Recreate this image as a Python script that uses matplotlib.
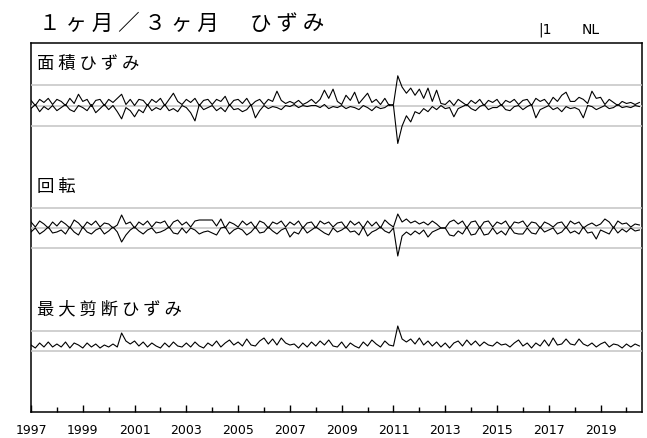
import numpy as np
import matplotlib
matplotlib.use("Agg")
from matplotlib import pyplot as plt

# Data (bimonthly samples, Jan 1997 .. Jul 2020)
t_start, per_year = 1997, 6

area_a = [0.25, 0.0, 0.3, 0.15, 0.35, 0.05,
          0.3, 0.2, 0.0, 0.35, 0.1, 0.55,
          0.2, 0.3, -0.05, 0.25, 0.3, 0.0,
          0.3, 0.15, 0.35, 0.55, 0.05, 0.3,
          0.0, 0.3, 0.25, 0.0, 0.3, 0.15,
          0.35, 0.0, 0.3, 0.6, 0.2, 0.05,
          0.3, 0.15, 0.35, 0.0, 0.25, 0.3,
          0.05, 0.3, 0.2, 0.45, 0.0, 0.25,
          0.3, 0.1, 0.35, 0.0, 0.2, 0.3,
          0.05, 0.3, 0.2, 0.7, 0.25, 0.1,
          0.2, 0.1, 0.25, 0.05, 0.15, 0.3,
          0.1, 0.3, 0.75, 0.35, 0.8, 0.2,
          0.05, 0.5, 0.25, 0.65, 0.1, 0.35,
          0.6, 0.15, 0.3, 0.05, 0.35, 0.0,
          0.05, 1.45, 0.9, 0.6, 0.85, 0.5,
          0.8, 0.35, 0.85, 0.2, 0.75, 0.1,
          0.05, 0.25, 0.0, 0.3, 0.15, 0.0,
          0.25, 0.1, 0.3, 0.0, 0.25, 0.15,
          0.3, 0.0, 0.25, 0.15, 0.3, 0.05,
          0.25, 0.3, 0.0, 0.35, 0.2, 0.3,
          0.05, 0.4, 0.2, 0.5, 0.65, 0.2,
          0.2, 0.4, 0.3, 0.1, 0.7, 0.35,
          0.4, 0.05, 0.3, 0.15, 0.0, 0.2,
          0.1, 0.15, 0.05, 0.15]
area_b = [-0.15, 0.05, -0.3, -0.05, -0.2, 0.0,
          -0.25, -0.1, 0.05, -0.2, -0.3, 0.0,
          -0.1, -0.25, 0.05, -0.35, -0.15, 0.05,
          -0.2, 0.0, -0.3, -0.65, -0.1, -0.25,
          -0.55, -0.2, -0.35, 0.05, -0.25, -0.1,
          -0.2, 0.05, -0.25, -0.15, -0.3, 0.0,
          -0.1, -0.35, -0.75, 0.05, -0.2, -0.1,
          0.0, -0.25, -0.1, -0.3, 0.05, -0.2,
          -0.15, -0.3, -0.2, 0.05, -0.6, -0.25,
          0.0, -0.15, -0.05, -0.1, -0.2, 0.0,
          -0.05, 0.05, -0.1, 0.0, -0.05, 0.0,
          0.0, -0.1, 0.05, -0.15, -0.05, -0.1,
          0.0, -0.15, -0.05, -0.1, -0.2, 0.0,
          -0.1, -0.25, -0.05, -0.15, -0.1, 0.05,
          0.0, -1.85, -1.0, -0.5, -0.8, -0.3,
          -0.4, -0.15, -0.3, -0.05, -0.2, 0.0,
          -0.15, -0.1, -0.55, -0.15, -0.05, 0.05,
          -0.15, -0.25, -0.05, 0.05, -0.2, -0.1,
          -0.1, 0.05, -0.2, -0.25, -0.05, 0.0,
          -0.2, -0.05, 0.05, -0.6, -0.2, -0.1,
          0.0, -0.2, -0.1, -0.3, -0.05, -0.15,
          -0.1, -0.2, -0.6, 0.0, -0.05, -0.2,
          -0.1, 0.0, -0.15, -0.1, 0.05, -0.1,
          -0.05, -0.1, 0.0, -0.05]

rot_a = [0.3, 0.05, 0.35, 0.2, 0.0, 0.3,
         0.1, 0.35, 0.2, 0.0, 0.4, 0.25,
         0.0, 0.3, 0.15, 0.35, 0.05, 0.25,
         0.2, 0.0, 0.15, 0.65, 0.2, 0.3,
         0.0, 0.3, 0.15, 0.35, 0.05, 0.3,
         0.25, 0.35, 0.0, 0.3, 0.4, 0.15,
         0.3, 0.05, 0.35, 0.4, 0.4, 0.4,
         0.4, 0.1, 0.45, 0.0, 0.3, 0.2,
         0.05, 0.35, 0.15, 0.3, 0.0, 0.35,
         0.25, 0.0, 0.3, 0.2, 0.35, 0.05,
         0.3, 0.15, 0.35, 0.0, 0.25, 0.3,
         0.0, 0.35, 0.2, 0.3, 0.05, 0.25,
         0.3, 0.0, 0.35, 0.15, 0.3, 0.0,
         0.35, 0.1, 0.3, 0.0, 0.4, 0.2,
         0.05, 0.7, 0.3, 0.45, 0.25, 0.35,
         0.2, 0.3, 0.15, 0.35, 0.2, 0.0,
         0.0, 0.3, 0.4, 0.2, 0.35, 0.0,
         0.3, 0.35, 0.0, 0.3, 0.35, 0.05,
         0.3, 0.2, 0.35, 0.0, 0.3, 0.25,
         0.35, 0.05, 0.3, 0.25, 0.0, 0.3,
         0.2, 0.05, 0.25, 0.3, 0.0, 0.35,
         0.2, 0.3, 0.0, 0.15, 0.25, 0.1,
         0.2, 0.45, 0.3, 0.0, 0.35, 0.2,
         0.25, 0.05, 0.2, 0.15]
rot_b = [-0.2, 0.0, -0.3, -0.15, 0.05, -0.25,
         -0.2, -0.1, -0.3, 0.05, -0.2, -0.35,
         0.05, -0.2, -0.3, -0.1, 0.0, -0.3,
         -0.15, 0.05, -0.2, -0.7, -0.35, -0.1,
         0.05, -0.15, -0.3, -0.1, 0.0, -0.25,
         -0.2, -0.1, 0.05, -0.25, -0.3, 0.0,
         -0.25, 0.0, -0.1, -0.3, -0.2, -0.15,
         -0.25, -0.35, 0.0, 0.05, -0.3, -0.1,
         0.0, -0.1, -0.35, -0.2, 0.05, -0.25,
         -0.2, 0.05, -0.15, -0.3, -0.1, 0.0,
         -0.45, -0.2, -0.3, 0.05, -0.25, -0.1,
         0.05, -0.1, -0.25, -0.35, 0.0, -0.2,
         -0.1, 0.05, -0.2, -0.15, -0.35, 0.05,
         -0.4, -0.2, -0.1, 0.05, -0.15, -0.25,
         0.0, -1.4, -0.4, -0.2, -0.35, -0.15,
         -0.3, -0.1, -0.45, -0.2, -0.1, 0.0,
         0.0, -0.35, -0.4, -0.15, -0.3, 0.05,
         -0.35, -0.3, 0.05, -0.35, -0.3, 0.0,
         -0.3, -0.15, -0.35, 0.05, -0.25, -0.3,
         -0.3, 0.0, -0.25, -0.3, 0.05, -0.2,
         -0.1, 0.0, -0.3, -0.2, 0.05, -0.25,
         -0.15, -0.3, 0.05, -0.25, -0.2, -0.55,
         -0.1, -0.2, -0.3, 0.05, -0.25, -0.05,
         -0.2, 0.0, -0.15, -0.1]

shear = [0.3, 0.15, 0.4, 0.2, 0.45, 0.2,
         0.35, 0.2, 0.45, 0.15, 0.4, 0.3,
         0.15, 0.4, 0.2, 0.35, 0.15, 0.3,
         0.2, 0.35, 0.2, 0.9, 0.5, 0.35,
         0.5, 0.25, 0.45, 0.2, 0.4, 0.25,
         0.15, 0.4, 0.2, 0.45, 0.25, 0.2,
         0.4, 0.2, 0.45, 0.25, 0.15, 0.4,
         0.25, 0.5, 0.2, 0.4, 0.55, 0.3,
         0.45, 0.25, 0.6, 0.3, 0.25, 0.5,
         0.65, 0.35, 0.6, 0.3, 0.65, 0.4,
         0.3, 0.35, 0.15, 0.4, 0.2, 0.45,
         0.25, 0.5, 0.3, 0.55, 0.25, 0.2,
         0.45, 0.15, 0.4, 0.25, 0.15, 0.45,
         0.25, 0.55, 0.35, 0.2, 0.5, 0.3,
         0.25, 1.25, 0.6, 0.45, 0.6, 0.35,
         0.65, 0.3, 0.5, 0.25, 0.45, 0.2,
         0.4, 0.15, 0.4, 0.5, 0.25, 0.55,
         0.3, 0.5, 0.25, 0.45, 0.3, 0.25,
         0.45, 0.3, 0.35, 0.2, 0.4, 0.55,
         0.25, 0.4, 0.15, 0.4, 0.25, 0.55,
         0.25, 0.65, 0.3, 0.35, 0.6, 0.35,
         0.3, 0.6, 0.35, 0.25, 0.4, 0.2,
         0.35, 0.45, 0.2, 0.35, 0.3, 0.15,
         0.35, 0.2, 0.35, 0.25]

panel_names = ["面 積 ひ ず み", "回 転", "最 大 剪 断 ひ ず み"]
ref_levels = [(-1, 0, 1), (-1, 0, 1), (0, 1)]
year_labels = list(range(1997, 2020, 2))

t = t_start + np.arange(len(area_a)) / per_year

jp = ["Noto Sans CJK JP", "DejaVu Sans"]

W, H = 647, 439
fig = plt.figure(figsize=(W / 100, H / 100), dpi=100)

# outer frame (pixel box 31..642 x 44..413)
bx0, bx1, by0, by1 = 31, 642, 44, 413
frame = fig.add_axes([bx0 / W, 1 - by1 / H, (bx1 - bx0) / W, (by1 - by0) / H])
frame.set_xlim(1997, 2020.6)
frame.set_ylim(0, 1)
frame.set_yticks([])
frame.set_xticks(year_labels)
frame.set_xticklabels([str(y) for y in year_labels], family="DejaVu Sans", fontsize=9)
frame.set_xticks(range(1998, 2021, 2), minor=True)
frame.tick_params(axis="x", which="major", direction="in", length=5, width=1, pad=8)
frame.tick_params(axis="x", which="minor", direction="in", length=3.5, width=1)
for s in frame.spines.values():
    s.set_linewidth(1.1)

# three panels stacked inside frame
series = [(area_a, area_b), (rot_a, rot_b), (shear,)]
ylims = [(-2.95, 3.05), (-3.05, 3.1), (-3.05, 3.1)]
band = (by1 - by0) / 3
for i in range(3):
    top = by0 + i * band
    ax = fig.add_axes([bx0 / W, 1 - (top + band) / H, (bx1 - bx0) / W, band / H],
                      sharex=frame)
    ax.patch.set_visible(False)
    for s in ax.spines.values():
        s.set_visible(False)
    ax.tick_params(which="both", left=False, bottom=False,
                   labelleft=False, labelbottom=False)
    ax.set_ylim(*ylims[i])
    for lv in ref_levels[i]:
        ax.axhline(lv, color="#c4c4c4", lw=1.1, zorder=1)
    for ys in series[i]:
        ax.plot(t, ys, color="black", lw=0.8, zorder=2)
    ax.text(0.01, 0.84, panel_names[i], transform=ax.transAxes, family=jp,
            fontsize=12.5, va="center", ha="left")

fig.text(39 / W, 1 - 24 / H, "１ ヶ 月 ／ ３ ヶ 月 　 ひ ず み", family=jp,
         fontsize=15.5, va="center", ha="left")
fig.text(538 / W, 1 - 30 / H, "|1", family="DejaVu Sans", fontsize=10,
         va="center", ha="left")
fig.text(582 / W, 1 - 30 / H, "NL", family="DejaVu Sans", fontsize=10,
         va="center", ha="left")

fig.savefig("out.png", dpi=100)
